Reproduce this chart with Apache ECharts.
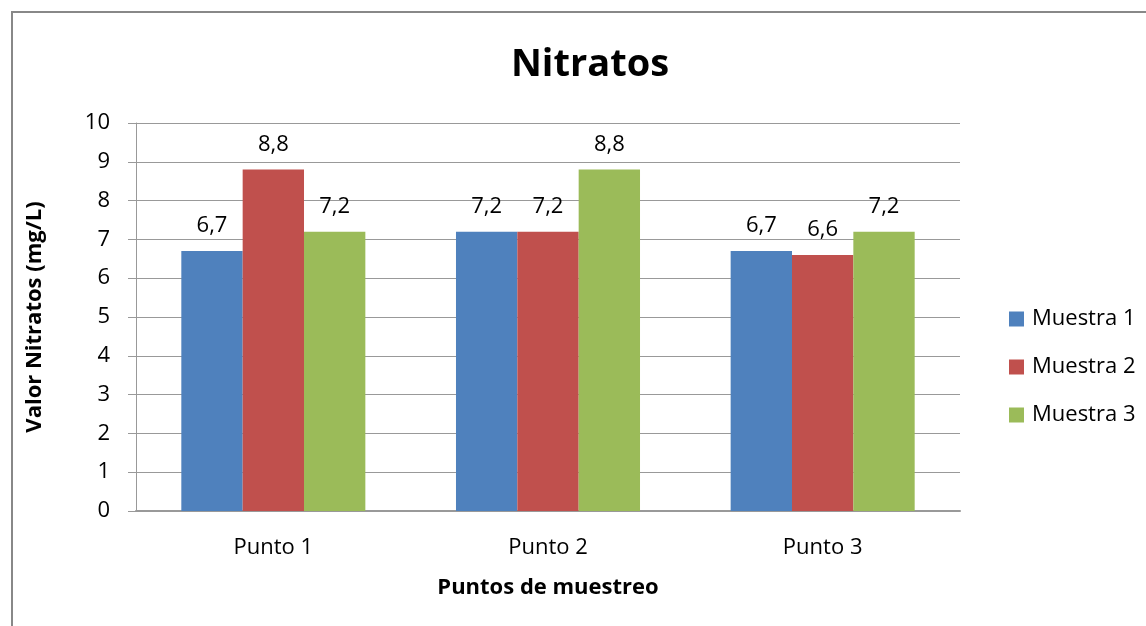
<!DOCTYPE html>
<html>
<head>
<meta charset="utf-8">
<script src="https://cdn.jsdelivr.net/npm/echarts@6/dist/echarts.min.js"></script>
<style>
  html, body { margin: 0; padding: 0; background: #fff; }
  #frame { position: absolute; left: 11px; top: 11px; width: 1160px; height: 640px; border: 2px solid #888; box-sizing: border-box; }
  #chart { position: absolute; left: 0; top: 0; width: 1146px; height: 626px; }
</style>
</head>
<body>
<div id="frame"></div>
<div id="chart"></div>
<script>
// Nitrate readings per sampling point (mg/L)
const categories = ['Punto 1', 'Punto 2', 'Punto 3'];
const muestra1 = [6.7, 7.2, 6.7];
const muestra2 = [8.8, 7.2, 6.6];
const muestra3 = [7.2, 8.8, 7.2];
const seriesNames = ['Muestra 1', 'Muestra 2', 'Muestra 3'];
const colors = ['#4F81BD', '#C0504D', '#9BBB59'];

const font = '"Open Sans", sans-serif';

const chart = echarts.init(document.getElementById('chart'), null, { renderer: 'canvas' });

const makeSeries = (name, data, color) => ({
  name: name,
  type: 'bar',
  data: data,
  barGap: '0%',
  barCategoryGap: '33%',
  itemStyle: { color: color },
  label: {
    show: true,
    position: 'top',
    distance: 14,
    color: '#000',
    fontFamily: font,
    fontSize: 22,
    formatter: p => String(p.value).replace('.', ',')
  }
});

chart.setOption({
  animation: false,
  title: {
    text: 'Nitratos',
    left: 585,
    textAlign: 'center',
    top: 41,
    textStyle: { fontFamily: font, fontSize: 38, fontWeight: 'bold', color: '#000' }
  },
  legend: {
    orient: 'vertical',
    left: 1004,
    top: 303,
    itemWidth: 15,
    itemHeight: 15,
    itemGap: 26,
    icon: 'rect',
    textStyle: { fontFamily: font, fontSize: 22, lineHeight: 22, color: '#000', padding: [0, 0, 0, 3] },
    data: seriesNames
  },
  grid: { left: 136, right: 186, top: 123, bottom: 115 },
  xAxis: {
    type: 'category',
    data: categories,
    name: 'Puntos de muestreo',
    nameLocation: 'middle',
    nameGap: 66,
    nameTextStyle: { fontFamily: font, fontSize: 22, fontWeight: 'bold', color: '#000' },
    axisLine: { lineStyle: { color: '#999', width: 2 } },
    axisTick: { show: false },
    axisLabel: { fontFamily: font, fontSize: 22, color: '#000', margin: 26 }
  },
  yAxis: {
    type: 'value',
    min: 0,
    max: 10,
    interval: 1,
    name: 'Valor Nitratos (mg/L)',
    nameLocation: 'middle',
    nameGap: 90,
    nameTextStyle: { fontFamily: font, fontSize: 22, fontWeight: 'bold', color: '#000' },
    axisLine: { show: true, lineStyle: { color: '#999', width: 1 } },
    axisTick: { show: true, inside: false, length: 8, lineStyle: { color: '#999' } },
    axisLabel: { fontFamily: font, fontSize: 22, color: '#000', margin: 26 },
    splitLine: { lineStyle: { color: '#999', width: 1 } }
  },
  series: [
    makeSeries(seriesNames[0], muestra1, colors[0]),
    makeSeries(seriesNames[1], muestra2, colors[1]),
    makeSeries(seriesNames[2], muestra3, colors[2])
  ]
});
</script>
</body>
</html>
